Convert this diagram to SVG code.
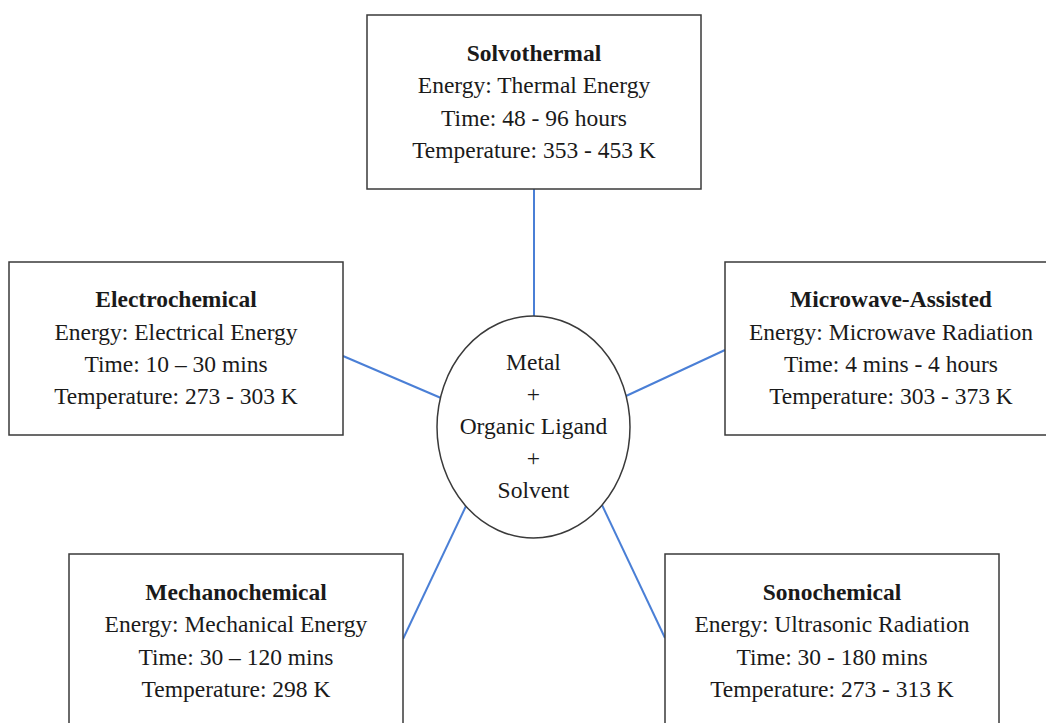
<svg xmlns="http://www.w3.org/2000/svg" width="1046" height="723" viewBox="0 0 1046 723">
<style>
.box{fill:#fff;stroke:#3a3a3a;stroke-width:1.5}
.ell{fill:#fff;stroke:#3a3a3a;stroke-width:1.5}
.conn{stroke:#4a7fd6;stroke-width:2;fill:none}
text{font-family:"Liberation Serif","Times New Roman",serif;font-size:23.5px;fill:#1a1a1a;text-anchor:middle}
.t{font-weight:bold}
</style>
<rect width="1046" height="723" fill="#fff"/>
<g id="connectors">
<line class="conn" x1="534" y1="189" x2="534" y2="316"/>
<line class="conn" x1="343" y1="356" x2="441" y2="398"/>
<line class="conn" x1="725" y1="350" x2="626" y2="396"/>
<line class="conn" x1="403" y1="639" x2="466" y2="506"/>
<line class="conn" x1="665" y1="638" x2="602" y2="505"/>
</g>
<g id="solvothermal">
<rect class="box" x="367" y="15" width="334" height="174"/>
<text class="t" x="534" y="61">Solvothermal</text>
<text x="534" y="93">Energy: Thermal Energy</text>
<text x="534" y="126">Time: 48 - 96 hours</text>
<text x="534" y="158">Temperature: 353 - 453 K</text>
</g>
<g id="electrochemical">
<rect class="box" x="9" y="262" width="334" height="173"/>
<text class="t" x="176" y="307">Electrochemical</text>
<text x="176" y="340">Energy: Electrical Energy</text>
<text x="176" y="372">Time: 10 – 30 mins</text>
<text x="176" y="404">Temperature: 273 - 303 K</text>
</g>
<g id="microwave">
<rect class="box" x="725" y="262" width="334" height="173"/>
<text class="t" x="891" y="307">Microwave-Assisted</text>
<text x="891" y="340">Energy: Microwave Radiation</text>
<text x="891" y="372">Time: 4 mins - 4 hours</text>
<text x="891" y="404">Temperature: 303 - 373 K</text>
</g>
<g id="center">
<ellipse class="ell" cx="533.5" cy="427" rx="96.5" ry="111"/>
<text x="533.5" y="370">Metal</text>
<text x="533.5" y="402">+</text>
<text x="533.5" y="434">Organic Ligand</text>
<text x="533.5" y="466">+</text>
<text x="533.5" y="498">Solvent</text>
</g>
<g id="mechanochemical">
<rect class="box" x="69" y="554" width="334" height="180"/>
<text class="t" x="236" y="600">Mechanochemical</text>
<text x="236" y="632">Energy: Mechanical Energy</text>
<text x="236" y="665">Time: 30 – 120 mins</text>
<text x="236" y="697">Temperature: 298 K</text>
</g>
<g id="sonochemical">
<rect class="box" x="665" y="554" width="334" height="180"/>
<text class="t" x="832" y="600">Sonochemical</text>
<text x="832" y="632">Energy: Ultrasonic Radiation</text>
<text x="832" y="665">Time: 30 - 180 mins</text>
<text x="832" y="697">Temperature: 273 - 313 K</text>
</g>
</svg>
